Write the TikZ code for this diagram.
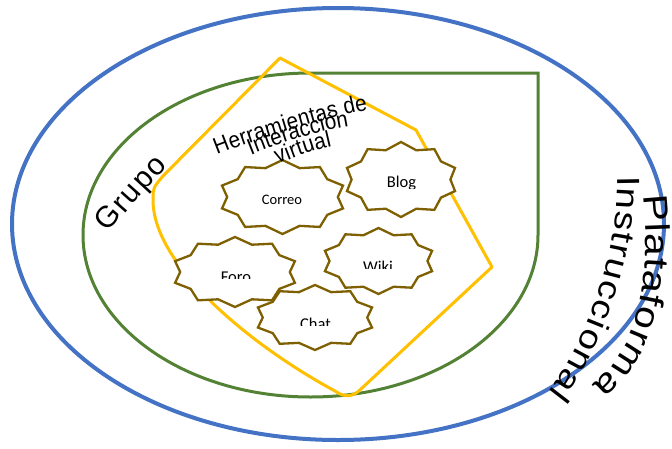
\documentclass[tikz,border=0pt]{standalone}
\usepackage{fontspec}
\setmainfont{Carlito}
\newfontfamily\arialf{Liberation Sans}
\newfontfamily\arialwide[FakeStretch=1.2]{Liberation Sans}
\newfontfamily\arialnarrow[FakeStretch=0.9]{Liberation Sans}
\usetikzlibrary{decorations.text}
\definecolor{bluec}{HTML}{4472C4}
\definecolor{greenc}{HTML}{548235}
\definecolor{yellowc}{HTML}{FFC000}
\definecolor{starc}{HTML}{7F6000}
\tikzset{
  blueline/.style={draw=bluec, line width=4pt},
  greenline/.style={draw=greenc, line width=3pt},
  yellowline/.style={draw=yellowc, line width=3pt, line join=round},
  starline/.style={draw=starc, line width=2.3pt, fill=white, line join=miter},
  starlabel/.style={inner sep=0pt, text=black},
}
\newcommand\mystarburst[5]{%
  \coordinate (#1) at (#2,#3);
  \draw[starline] (#2,#3-#5) \foreach \k in {1,...,19}{ -- ({#2+(1-0.13*mod(\k,2))*#4*cos(-90+18*\k)},{#3+(1-0.18*mod(\k,2))*#5*sin(-90+18*\k)}) } -- cycle;
}
\begin{document}
\begin{tikzpicture}[x=1pt,y=-1pt]
\useasboundingbox (0,0) rectangle (672,448);
\fill[white] (0,0) rectangle (672,448);
% outer ellipse
\draw[blueline] (338,224) ellipse [x radius=326, y radius=216];
% teardrop
\draw[greenline] (83,235) arc[start angle=180, end angle=270, x radius=227.5, y radius=162] -- (538,73) -- (538,235) arc[start angle=0, end angle=180, x radius=227.5, y radius=162] -- cycle;
% yellow shape
\draw[yellowline] (280,58) -- (416,130) -- (492,267) -- (361,389) .. controls (353,397) and (345,398) .. (335,391) .. controls (250,345) and (153,265) .. (153,200) .. controls (153,188) .. (163,176) -- cycle;
% stars
\mystarburst{correo}{282.5}{197}{63.6}{37}
\mystarburst{blog}{401}{179.5}{56.8}{37.5}
\mystarburst{foro}{235}{272}{63}{35}
\mystarburst{wiki}{378.5}{261}{56.3}{33}
\mystarburst{chat}{315}{317.5}{60}{32.5}
% star labels
\node[starlabel, anchor=base, font=\fontsize{14.5}{14.5}\selectfont] (correoT) at (282,204.3) {Correo};
\begin{scope}
\clip (360,160) rectangle (440,188.3);
\node[starlabel, anchor=base, font=\fontsize{16.5}{16.5}\selectfont] (blogT) at (401.5,187.3) {Blog};
\end{scope}
\begin{scope}
\clip (196,250) rectangle (276,278);
\node[starlabel, anchor=base, font=\fontsize{16.5}{16.5}\selectfont] (foroT) at (236,282.3) {Foro};
\end{scope}
\begin{scope}
\clip (340,240) rectangle (420,268.3);
\node[starlabel, anchor=base, font=\fontsize{16.5}{16.5}\selectfont] (wikiT) at (378,272.3) {Wiki};
\end{scope}
\begin{scope}
\clip (275,300) rectangle (355,325);
\node[starlabel, anchor=base, font=\fontsize{16.5}{16.5}\selectfont] (chatT) at (315.5,329) {Chat};
\end{scope}
% big labels along arcs
\coordinate (g0) at (108,233);
\coordinate (g1) at (168,166);
\path[decorate, decoration={text along path, text={|\arialf\fontsize{30}{30}\selectfont|Grupo}, text align={fit to path}}] (g0) .. controls (124,214) and (146,189) .. (g1);
\coordinate (h0) at (217,155);
\coordinate (h1) at (368,110);
\path[decorate, decoration={text along path, text={|\arialnarrow\fontsize{23}{23}\selectfont|Herramientas de}, text align={fit to path}}] (h0) .. controls (254,140) and (329,117) .. (h1);
\coordinate (i0) at (251,155);
\coordinate (i1) at (349,126);
\path[decorate, decoration={text along path, text={|\arialnarrow\fontsize{23}{23}\selectfont|Interacción}, text align={fit to path}}] (i0) .. controls (281,143) and (318,131) .. (i1);
\coordinate (v0) at (278,164);
\coordinate (v1) at (332,146);
\path[decorate, decoration={text along path, text={|\arialnarrow\fontsize{23}{23}\selectfont|virtual}, text align={fit to path}}] (v0) .. controls (295,157) and (314,150) .. (v1);
\coordinate (p0) at (643,196);
\coordinate (p1) at (592,385);
\path[decorate, decoration={text along path, text={|\arialwide\fontsize{34}{34}\selectfont|Plataforma}, text align={fit to path}}] (p0) .. controls (651,270) and (643,345) .. (p1);
\coordinate (n0) at (617,176);
\coordinate (n1) at (548,392);
\path[decorate, decoration={text along path, text={|\arialwide\fontsize{32}{32}\selectfont|Instruccional}, text align={fit to path}}] (n0) .. controls (620,240) and (590,340) .. (n1);
\end{tikzpicture}
\end{document}
